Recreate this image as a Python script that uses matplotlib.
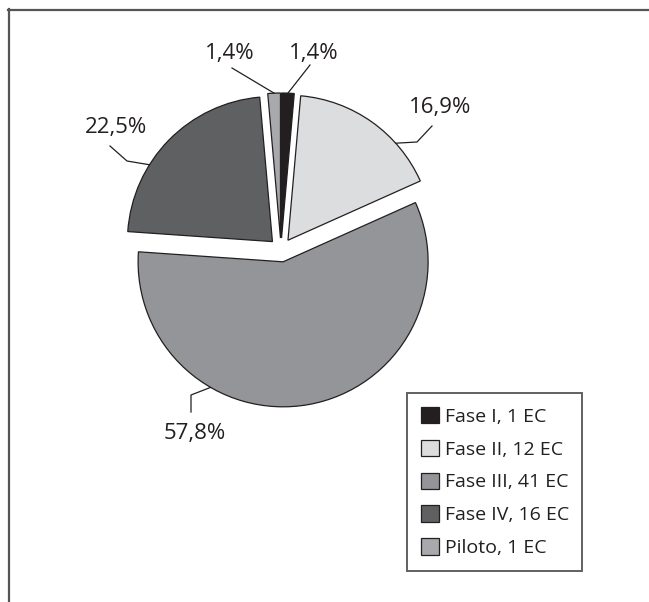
import numpy as np
import matplotlib.pyplot as plt
from matplotlib.lines import Line2D

plt.rcParams['font.family'] = ['Open Sans', 'DejaVu Sans']

fases = ['Fase I', 'Fase II', 'Fase III', 'Fase IV', 'Piloto']
ensayos = [1, 12, 41, 16, 1]
porcentajes = [1.4, 16.9, 57.8, 22.5, 1.4]

colores = ['#231f20', '#dcdddf', '#939598', '#5f6062', '#a7a9ac']
tinta = '#231f20'

W, H = 649, 602
fig = plt.figure(figsize=(W / 100, H / 100), dpi=100)
ax = fig.add_axes([0, 0, 1, 1])


def px(x, y):
    # posiciones en pixeles contadas desde arriba a la izquierda
    return x, H - y


# pastel: todas las porciones separadas un poco del centro
wedges, _ = ax.pie(porcentajes, colors=colores, startangle=90, counterclock=False,
                   center=px(281, 250), radius=145, explode=[12] * len(porcentajes),
                   wedgeprops=dict(edgecolor=tinta, linewidth=0.9),
                   frame=True)
ax.set_xlim(0, W)
ax.set_ylim(0, H)
ax.axis('off')

# etiquetas: angulo de enganche (None = mitad de la porcion), codo, texto
etiquetas = [
    (None, [(310, 65)], (314, 54)),
    (42, [(417, 142), (432, 126)], (440, 108)),
    (-120, [(191, 395), (191, 412)], (195, 433)),
    (148, [(127, 161), (110, 146)], (116, 128)),
    (None, [(232, 68)], (230, 54)),
]
for w, pct, (ang, codo, pos) in zip(wedges, porcentajes, etiquetas):
    cx, cy = w.center
    if ang is None:
        ang = 0.5 * (w.theta1 + w.theta2)
    a = np.deg2rad(ang)
    xs = [cx + w.r * np.cos(a)] + [px(*p)[0] for p in codo]
    ys = [cy + w.r * np.sin(a)] + [px(*p)[1] for p in codo]
    ax.plot(xs, ys, color=tinta, lw=0.9)
    ax.text(*px(*pos), f'{pct:.1f}%'.replace('.', ','), fontsize=16,
            color=tinta, ha='center', va='center')

nombres = [f'{f}, {n} EC' for f, n in zip(fases, ensayos)]
leg = ax.legend(wedges, nombres, loc='upper left',
                bbox_to_anchor=(407 / W, 1 - 393 / H), bbox_transform=fig.transFigure,
                fontsize=14, frameon=True, fancybox=False, edgecolor='#3a3a3a',
                handlelength=0.93, handleheight=0.93, handletextpad=0.3,
                labelspacing=0.72, borderpad=0.7, borderaxespad=0)
leg.get_frame().set_linewidth(1.4)
for t in leg.get_texts():
    t.set_color(tinta)

# marco superior e izquierdo
fig.add_artist(Line2D([8 / W, 1], [1 - 9.5 / H] * 2, transform=fig.transFigure,
                      color='#555555', lw=1.6))
fig.add_artist(Line2D([9 / W] * 2, [1 - 9 / H, 0], transform=fig.transFigure,
                      color='#555555', lw=1.6))

fig.savefig('out.png', dpi=100)
